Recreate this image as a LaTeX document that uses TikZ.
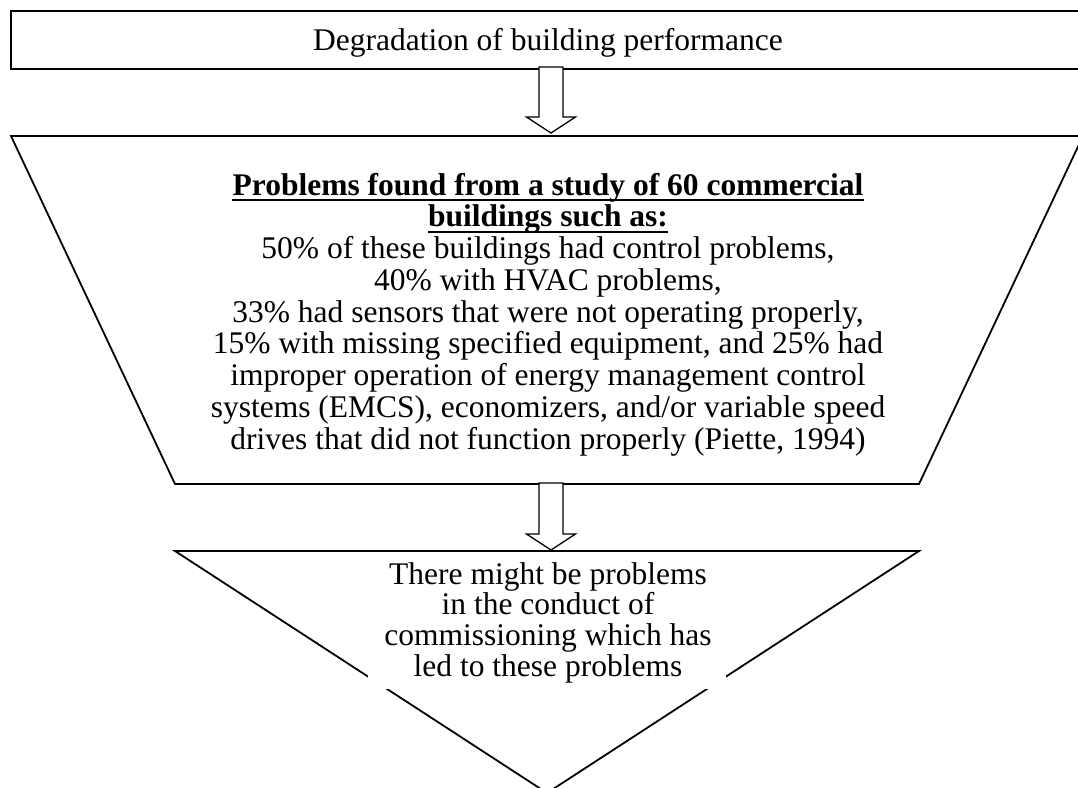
\documentclass[tikz,border=0pt]{standalone}
\usepackage{fontspec}
\setmainfont{Liberation Serif}
\usetikzlibrary{calc}

\tikzset{
  outline/.style={draw=black, line width=1.8pt, line join=miter},
  arrowbox/.style={draw=black, fill=white, line width=1.3pt, line join=miter},
  txt/.style={inner sep=0pt, anchor=base, font=\fontsize{31.5}{31.75}\selectfont},
  headtxt/.style={txt, font=\fontsize{31.5}{31.75}\selectfont\bfseries},
  uline/.style={draw=black, line width=2.4pt},
}

% hollow block arrow from #1 down to the tip #2
\newcommand\blockarrow[2]{%
  \draw[arrowbox] ($(#1)+(-12,0)$) -- ($(#2)+(-12,-16)$) -- ($(#2)+(-24.5,-16)$)
    -- (#2) -- ($(#2)+(24.5,-16)$) -- ($(#2)+(12,-16)$) -- ($(#1)+(12,0)$) -- cycle;}

\begin{document}
\begin{tikzpicture}[x=1pt,y=-1pt]
\clip (0,0) rectangle (1078,787);
\fill[white] (0,0) rectangle (1078,787);

% header box
\draw[outline, line width=2pt] (11,11) rectangle (1083,69);
\node[txt] (title) at (548,50) {Degradation of building performance};

% trapezoid with the study findings
\draw[outline] (11,136) -- (1083,136) -- (919,484) -- (175,484) -- cycle;
\node[headtxt] (h1) at (548,195) {Problems found from a study of 60 commercial};
\node[headtxt] (h2) at (548,226.75) {buildings such as:};
\draw[uline] ([yshift=-5pt]h1.base west) -- ([yshift=-5pt]h1.base east);
\draw[uline] ([yshift=-5pt]h2.base west) -- ([yshift=-5pt]h2.base east);
\foreach \t [count=\i] in {
  {50\% of these buildings had control problems,},
  {40\% with HVAC problems,},
  {33\% had sensors that were not operating properly,},
  {15\% with missing specified equipment, and 25\% had},
  {improper operation of energy management control},
  {systems (EMCS), economizers, and/or variable speed},
  {drives that did not function properly (Piette, 1994)}}
  \node[txt] (p\i) at (548,{258.5+31.75*(\i-1)}) {\t};

% inverted triangle with the conclusion; its text sits on a white box
\draw[outline] (175,551) -- (919,551) -- (547,793) -- cycle;
\fill[white] (368,556) rectangle (726,689);
\foreach \t [count=\i] in {
  {There might be problems},
  {in the conduct of},
  {commissioning which has},
  {led to these problems}}
  \node[txt] (c\i) at (548,{584+30.7*(\i-1)}) {\t};

% connecting block arrows
\coordinate (a1s) at (551,67);
\coordinate (a1e) at (551,133);
\coordinate (a2s) at (551,483);
\coordinate (a2e) at (551,550);
\blockarrow{a1s}{a1e}
\blockarrow{a2s}{a2e}
\end{tikzpicture}
\end{document}
